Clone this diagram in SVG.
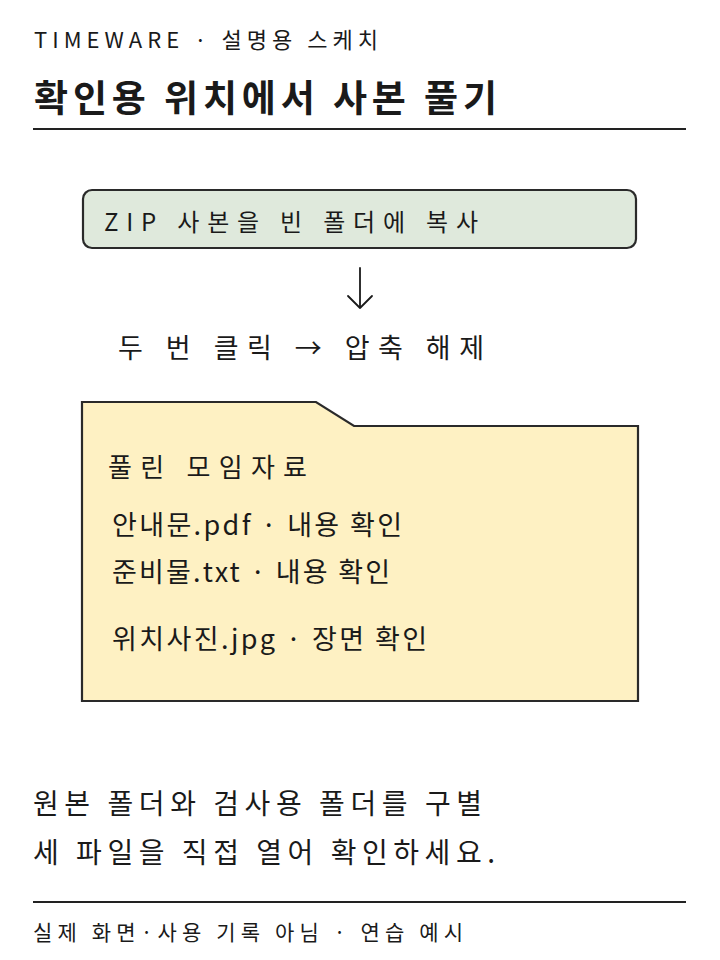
<svg xmlns="http://www.w3.org/2000/svg" width="720" height="960" viewBox="0 0 720 960">
<defs>
<style>
text{font-family:"Noto Sans CJK KR","Noto Sans",sans-serif;fill:#1a1a1a}
.rule{stroke:#222;stroke-width:2;fill:none}
.box{stroke:#2a2a2a;stroke-width:2.2}
.conn{stroke:#1a1a1a;stroke-width:1.8;fill:none;stroke-linecap:round;stroke-linejoin:round}
</style>
</defs>
<rect width="720" height="960" fill="#ffffff"/>
<g id="header">
<text x="34" y="48" font-size="22" textLength="344" lengthAdjust="spacing">TIMEWARE · 설명용 스케치</text>
<text x="34" y="112" font-size="37" font-weight="700" textLength="463" lengthAdjust="spacing">확인용 위치에서 사본 풀기</text>
<line class="rule" x1="33" y1="129" x2="686" y2="129"/>
</g>
<g id="node-copy">
<rect class="box" x="83" y="190" width="553" height="58" rx="9" fill="#dfe9dc"/>
<text x="104" y="231" font-size="24" textLength="374" lengthAdjust="spacing">ZIP 사본을 빈 폴더에 복사</text>
</g>
<g id="connectors">
<path class="conn" d="M360 268 V308 M348 296 L360 308 L372 296"/>
</g>
<g id="node-unzip">
<text x="118" y="358" font-size="27" textLength="366" lengthAdjust="spacing">두 번 클릭 → 압축 해제</text>
</g>
<g id="node-folder">
<path class="box" d="M82 402 H316 L354 426 H638 V701 H82 Z" fill="#fef1c3"/>
<text x="108" y="477" font-size="26" textLength="199" lengthAdjust="spacing">풀린 모임자료</text>
<text x="112" y="535" font-size="27" textLength="290" lengthAdjust="spacing">안내문.pdf · 내용 확인</text>
<text x="112" y="582" font-size="27" textLength="278" lengthAdjust="spacing">준비물.txt · 내용 확인</text>
<text x="112" y="649" font-size="27" textLength="315" lengthAdjust="spacing">위치사진.jpg · 장면 확인</text>
</g>
<g id="note">
<text x="33" y="814" font-size="28" textLength="449" lengthAdjust="spacing">원본 폴더와 검사용 폴더를 구별</text>
<text x="33" y="863" font-size="28" textLength="462" lengthAdjust="spacing">세 파일을 직접 열어 확인하세요.</text>
</g>
<g id="footer">
<line class="rule" x1="33" y1="902" x2="686" y2="902" stroke-width="1.6"/>
<text x="33" y="940" font-size="21" textLength="430" lengthAdjust="spacing">실제 화면·사용 기록 아님 · 연습 예시</text>
</g>
</svg>
